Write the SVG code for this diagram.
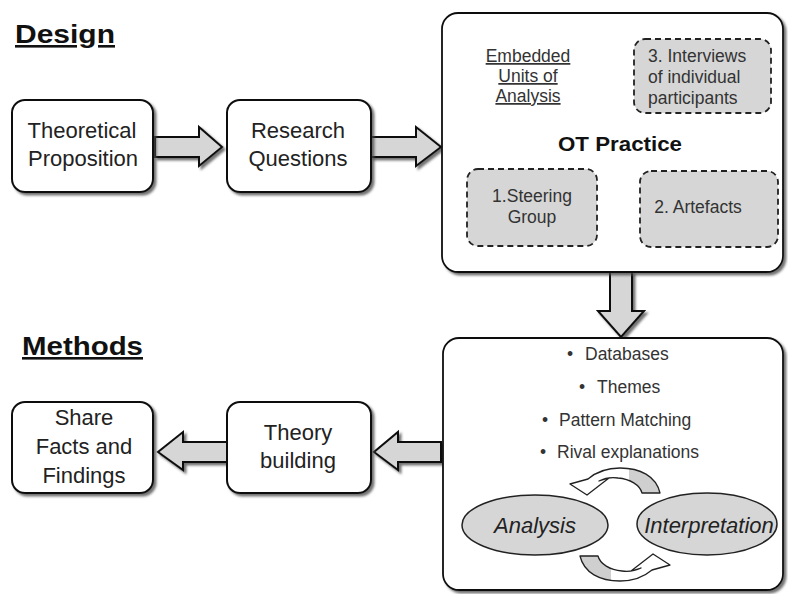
<svg xmlns="http://www.w3.org/2000/svg" width="788" height="594" viewBox="0 0 788 594">
  <defs>
    <filter id="shadow" x="-10%" y="-10%" width="130%" height="130%">
      <feDropShadow dx="2.5" dy="2.5" stdDeviation="1.2" flood-color="#444" flood-opacity="0.75"/>
    </filter>
    <linearGradient id="ribbon" gradientUnits="userSpaceOnUse" x1="560" y1="0" x2="670" y2="0">
      <stop offset="0" stop-color="#fff"/>
      <stop offset="0.63" stop-color="#fff"/>
      <stop offset="0.63" stop-color="#cfcfcf"/>
      <stop offset="1" stop-color="#cfcfcf"/>
    </linearGradient>
    <!-- curved ribbon arrow with a downward head on its left end -->
    <path id="loopArrow" d="M660 493 C656 476 640 468 620 468 C606 468 595 473 588 479 L570 484 L587 495 L609 478 L599 481 C605 478 611 477 618 478 C630 479 640 485 642 493 Z"/>
  </defs>
  <style>
    .box { fill: #fff; stroke: #111; stroke-width: 2; filter: url(#shadow); }
    .big { fill: #fff; stroke: #111; stroke-width: 1.8; filter: url(#shadow); }
    .unit { fill: #d6d6d6; stroke: #222; stroke-width: 1.8; stroke-dasharray: 6 4; }
    .arrow { fill: #d6d6d6; stroke: #111; stroke-width: 2; filter: url(#shadow); stroke-linejoin: miter; }
    .ell { fill: #d6d6d6; stroke: #222; stroke-width: 1.5; }
    .loop { fill: url(#ribbon); stroke: #222; stroke-width: 1.3; stroke-linejoin: round; }
    text { font-family: "Liberation Sans", Arial, sans-serif; text-anchor: middle; }
    .title { font-size: 26px; font-weight: bold; fill: #111; text-anchor: start; text-decoration: underline; }
    .lbl { font-size: 22px; fill: #222; }
    .sm { font-size: 17.5px; fill: #333; }
    .left { text-anchor: start; }
    .ot { font-size: 20.5px; font-weight: bold; fill: #111; }
    .it { font-size: 22px; font-style: italic; fill: #222; }
  </style>

  <!-- section headings -->
  <text class="title" x="15" y="43" textLength="100" lengthAdjust="spacingAndGlyphs">Design</text>
  <text class="title" x="22" y="355" textLength="121" lengthAdjust="spacingAndGlyphs">Methods</text>

  <!-- connectors -->
  <g id="connectors">
    <path class="arrow" d="M155 137 L199 137 L199 127 L222 147 L199 166 L199 157 L155 157 Z"/>
    <path class="arrow" d="M371 137 L416 137 L416 127 L441 147 L416 166 L416 157 L371 157 Z"/>
    <path class="arrow" d="M610 272 L632 272 L632 311 L644 311 L621 337 L598 311 L610 311 Z"/>
    <path class="arrow" d="M441 442 L398 442 L398 432 L374 452 L398 470 L398 462 L441 462 Z"/>
    <path class="arrow" d="M227 442 L183 442 L183 432 L158 452 L183 470 L183 462 L227 462 Z"/>
  </g>

  <g id="theoretical-proposition">
    <rect class="box" x="12" y="100" width="141" height="92" rx="13"/>
    <text class="lbl" x="82" y="138">Theoretical</text>
    <text class="lbl" x="83" y="166">Proposition</text>
  </g>

  <g id="research-questions">
    <rect class="box" x="227" y="100" width="144" height="92" rx="13"/>
    <text class="lbl" x="298" y="138">Research</text>
    <text class="lbl" x="298" y="166">Questions</text>
  </g>

  <g id="ot-practice">
    <rect class="big" x="442" y="13" width="341" height="259" rx="16"/>
    <text class="sm" x="528" y="62" text-decoration="underline">Embedded</text>
    <text class="sm" x="528" y="82" text-decoration="underline">Units of</text>
    <text class="sm" x="528" y="102" text-decoration="underline">Analysis</text>
    <text class="ot" x="620" y="151" textLength="124" lengthAdjust="spacingAndGlyphs">OT Practice</text>
  </g>

  <g id="unit-interviews">
    <rect class="unit" x="634" y="39" width="137" height="74" rx="11"/>
    <text class="sm left" x="648" y="62">3. Interviews</text>
    <text class="sm left" x="648" y="83">of individual</text>
    <text class="sm left" x="648" y="104">participants</text>
  </g>

  <g id="unit-steering-group">
    <rect class="unit" x="467" y="169" width="130" height="77" rx="11"/>
    <text class="sm" x="532" y="202">1.Steering</text>
    <text class="sm" x="532" y="223">Group</text>
  </g>

  <g id="unit-artefacts">
    <rect class="unit" x="640" y="171" width="138" height="76" rx="11"/>
    <text class="sm" x="698" y="213">2. Artefacts</text>
  </g>

  <g id="methods">
    <rect class="big" x="443" y="338" width="340" height="252" rx="16"/>
    <text class="sm" x="570" y="360">•</text>
    <text class="sm left" x="585" y="360">Databases</text>
    <text class="sm" x="582" y="393">•</text>
    <text class="sm left" x="597" y="393">Themes</text>
    <text class="sm" x="545" y="426">•</text>
    <text class="sm left" x="559" y="426">Pattern Matching</text>
    <text class="sm" x="543" y="458">•</text>
    <text class="sm left" x="557" y="458">Rival explanations</text>
  </g>

  <g id="analysis">
    <ellipse class="ell" cx="535" cy="525" rx="73" ry="30"/>
    <text class="it" x="535" y="533">Analysis</text>
  </g>

  <g id="interpretation">
    <ellipse class="ell" cx="707" cy="524" rx="70" ry="31"/>
    <text class="it" x="709" y="533">Interpretation</text>
  </g>

  <g id="analysis-loop">
    <use href="#loopArrow" class="loop"/>
    <use href="#loopArrow" class="loop" transform="rotate(180 620 524.5)"/>
  </g>

  <g id="theory-building">
    <rect class="box" x="227" y="402" width="144" height="91" rx="13"/>
    <text class="lbl" x="298" y="440">Theory</text>
    <text class="lbl" x="298" y="468">building</text>
  </g>

  <g id="share-findings">
    <rect class="box" x="12" y="402" width="141" height="91" rx="13"/>
    <text class="lbl" x="84" y="425">Share</text>
    <text class="lbl" x="84" y="454">Facts and</text>
    <text class="lbl" x="84" y="483">Findings</text>
  </g>
</svg>
